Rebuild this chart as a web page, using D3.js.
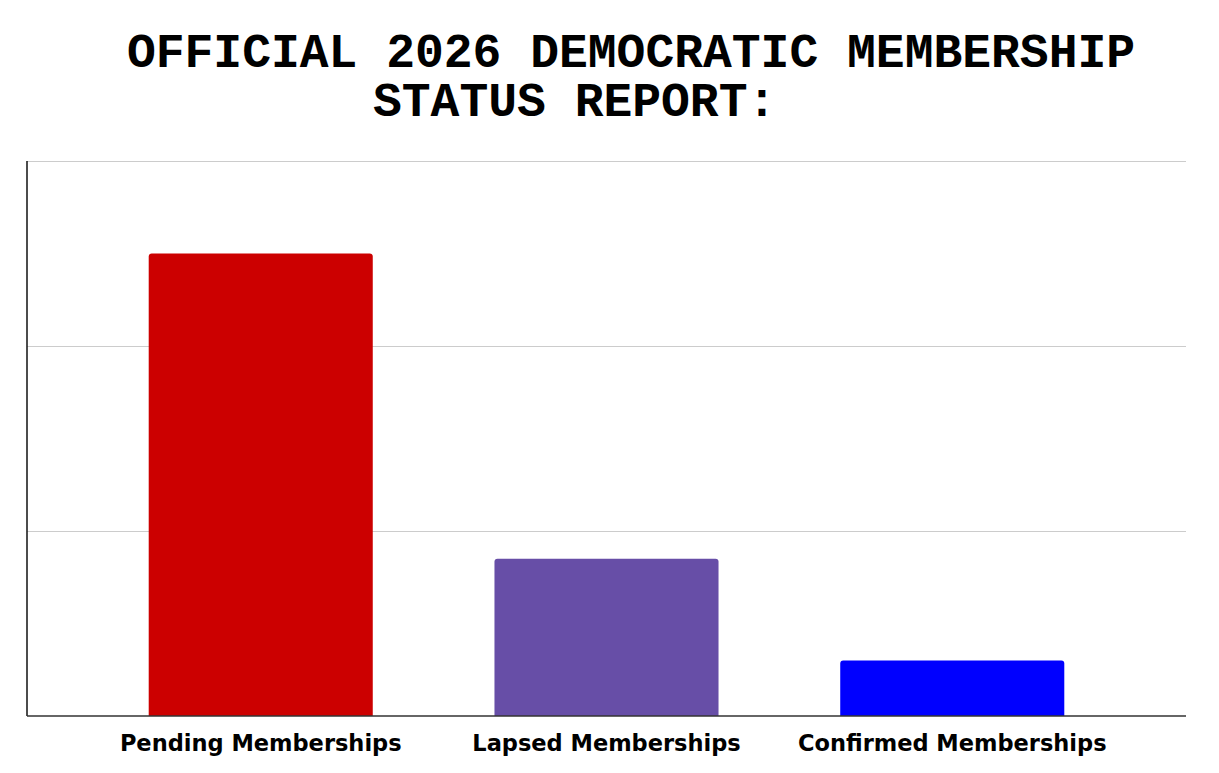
<!DOCTYPE html>
<html>
<head>
<meta charset="utf-8">
<script src="https://cdn.jsdelivr.net/npm/d3@7"></script>
<style>
  html, body { margin: 0; padding: 0; background: #fff; }
  svg { display: block; }
</style>
</head>
<body>
<svg id="chart" width="1219" height="773"></svg>
<script>
const categories = ["Pending Memberships", "Lapsed Memberships", "Confirmed Memberships"];
const values = [2.5, 0.85, 0.3];
const colors = ["#cc0000", "#674ea7", "#0000ff"];
const yTicks = [0, 1, 2, 3];
const titleLines = ["OFFICIAL 2026 DEMOCRATIC MEMBERSHIP", "STATUS REPORT:"];

(function () {
const svg = d3.select("#chart");
const W = 1219, H = 773;
const mLeft = 27, mRight = 1186, mTop = 161, mBottom = 716;

svg.append("rect").attr("width", W).attr("height", H).attr("fill", "#fff");

const x = d3.scaleBand().domain(categories).range([mLeft, mRight]).padding(0.352);
const y = d3.scaleLinear().domain([0, 3]).range([mBottom, mTop]);

// gridlines
const grid = svg.append("g").attr("transform", `translate(${mLeft},0)`)
  .call(d3.axisLeft(y).tickValues(yTicks).tickSize(-(mRight - mLeft)).tickFormat(""));
grid.select(".domain").remove();
grid.selectAll(".tick line").attr("stroke", "#cccccc").attr("stroke-width", 1);
grid.selectAll(".tick").filter(d => d === 0).remove();

// bars with rounded top corners
const r = 3;
svg.append("g").selectAll("path").data(categories).join("path")
  .attr("fill", (d, i) => colors[i])
  .attr("d", (d, i) => {
    const x0 = x(d), x1 = x(d) + x.bandwidth();
    const y0 = y(values[i]), yb = y(0);
    return `M${x0},${yb} L${x0},${y0 + r} Q${x0},${y0} ${x0 + r},${y0} L${x1 - r},${y0} Q${x1},${y0} ${x1},${y0 + r} L${x1},${yb} Z`;
  });

// left axis line
svg.append("line").attr("x1", mLeft).attr("x2", mLeft).attr("y1", mTop).attr("y2", mBottom)
  .attr("stroke", "#111").attr("stroke-width", 1.5);

// bottom axis
const xa = svg.append("g").attr("transform", `translate(0,${mBottom})`)
  .call(d3.axisBottom(x).tickSize(0).tickPadding(0));
xa.select(".domain").attr("stroke", "#333").attr("stroke-width", 1.5)
  .attr("d", `M${mLeft},0H${mRight}`);
xa.selectAll(".tick text")
  .attr("y", 35).attr("dy", 0)
  .attr("font-family", "'DejaVu Sans', Verdana, sans-serif")
  .attr("font-weight", "bold")
  .attr("font-size", 22.5)
  .attr("fill", "#000");

// title
const title = svg.append("g")
  .attr("font-family", "'Courier New', Courier, 'Nimbus Mono PS', FreeMono, 'Liberation Mono', monospace")
  .attr("font-weight", "bold")
  .attr("font-size", 48)
  .attr("fill", "#000");
title.append("text").attr("x", 631).attr("y", 67).attr("text-anchor", "middle").text(titleLines[0]);
title.append("text").attr("x", 373).attr("y", 116).attr("text-anchor", "start").text(titleLines[1]);
})();
</script>
</body>
</html>
